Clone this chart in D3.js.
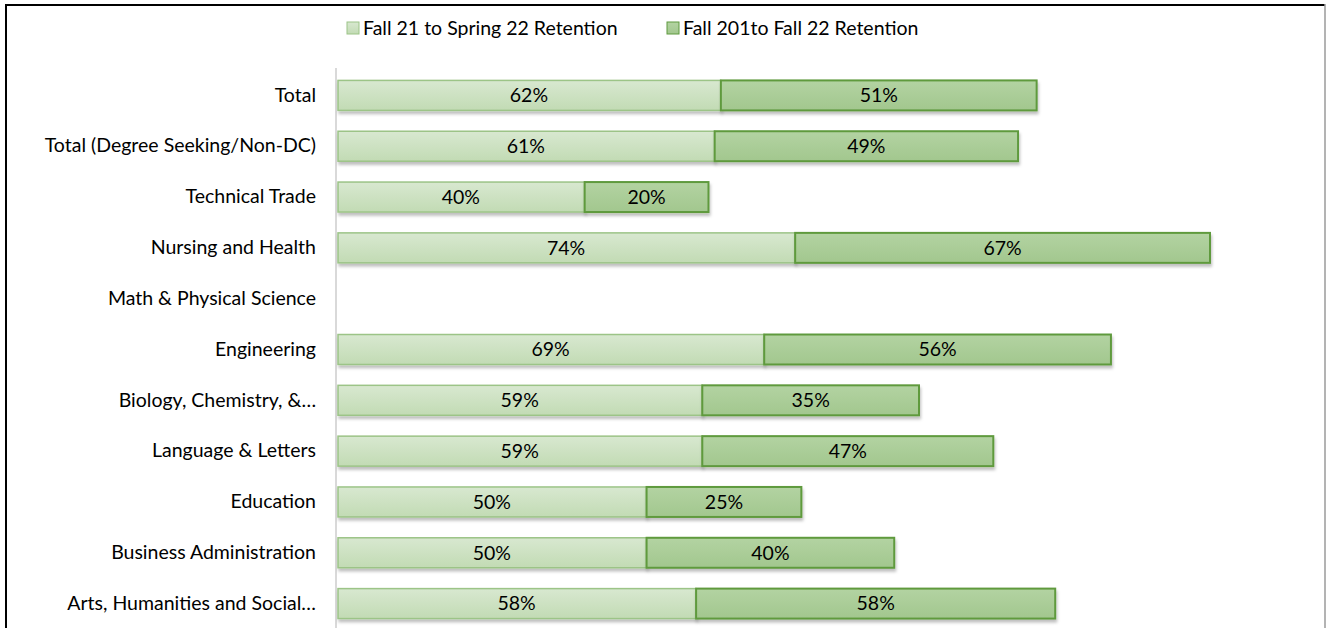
<!DOCTYPE html>
<html><head><meta charset="utf-8">
<script src="https://cdn.jsdelivr.net/npm/d3@7"></script>
<style>body{margin:0;background:#fff;} svg{display:block;font-family:Lato,"Open Sans",sans-serif;}</style>
</head><body>
<svg id="c" width="1327" height="628"></svg>
<script>
const categories = ["Total","Total (Degree Seeking/Non-DC)","Technical Trade","Nursing and Health","Math & Physical Science","Engineering","Biology, Chemistry, &…","Language & Letters","Education","Business Administration","Arts, Humanities and Social…"];
const springRetention = [62,61,40,74,null,69,59,59,50,50,58];
const fallRetention = [51,49,20,67,null,56,35,47,25,40,58];
const seriesNames = ["Fall 21 to Spring 22 Retention","Fall 201to Fall 22 Retention"];

const svg = d3.select("#c");
const W = 1327, H = 628;
const FS = 19.5;
// border
svg.append("line").attr("x1",6).attr("x2",1325).attr("y1",5).attr("y2",5).attr("stroke","#000").attr("stroke-width",2);
svg.append("line").attr("x1",6).attr("x2",6).attr("y1",4).attr("y2",H).attr("stroke","#000").attr("stroke-width",2);
svg.append("line").attr("x1",1325).attr("x2",1325).attr("y1",4).attr("y2",H).attr("stroke","#9a9a9a").attr("stroke-width",1.5);

const defs = svg.append("defs");
const g1 = defs.append("linearGradient").attr("id","gl").attr("x1",0).attr("x2",0).attr("y1",0).attr("y2",1);
g1.append("stop").attr("offset","0%").attr("stop-color","#d8e8d0");
g1.append("stop").attr("offset","100%").attr("stop-color","#c2dbb4");
const g2 = defs.append("linearGradient").attr("id","gd").attr("x1",0).attr("x2",0).attr("y1",0).attr("y2",1);
g2.append("stop").attr("offset","0%").attr("stop-color","#b3d3a2");
g2.append("stop").attr("offset","100%").attr("stop-color","#a2c78e");
const sh = defs.append("filter").attr("id","sh").attr("x","-5%").attr("y","-20%").attr("width","110%").attr("height","160%");
sh.append("feDropShadow").attr("dx",1).attr("dy",3).attr("stdDeviation",1.5).attr("flood-color","#000").attr("flood-opacity",0.25);

const x = d3.scaleLinear().domain([0,141]).range([337,1210]);
const y = d3.scaleBand().domain(categories).range([70,629]).paddingInner(0.41).paddingOuter(0.205);

// axis
const yAxis = d3.axisLeft(y).tickSize(0).tickPadding(20);
const ax = svg.append("g").attr("transform","translate(336,0)").call(yAxis);
ax.select(".domain").attr("stroke","#d9d9d9").attr("stroke-width",2).attr("d","M0,68V628");
ax.selectAll("text").attr("font-size",FS).attr("fill","#000").attr("font-family","Lato,'Open Sans',sans-serif");

const rows = categories.map((c,i)=>({c, a:springRetention[i], b:fallRetention[i]})).filter(d=>d.a!=null);
const bars = svg.append("g");
rows.forEach(d=>{
  const yy = y(d.c), h = y.bandwidth();
  bars.append("rect").attr("x",x(0)+1).attr("y",yy).attr("width",x(d.a)-x(0)-1).attr("height",h)
    .attr("fill","url(#gl)").attr("stroke","#9cc487").attr("stroke-width",1.5).attr("filter","url(#sh)");
  bars.append("rect").attr("x",x(d.a)).attr("y",yy).attr("width",x(d.a+d.b)-x(d.a)).attr("height",h)
    .attr("fill","url(#gd)").attr("stroke","#5f9a3e").attr("stroke-width",2).attr("filter","url(#sh)");
  bars.append("text").attr("x",(x(0)+x(d.a))/2).attr("y",yy+h/2).attr("dy","0.35em").attr("text-anchor","middle")
    .attr("font-size",FS).text(d.a+"%");
  bars.append("text").attr("x",(x(d.a)+x(d.a+d.b))/2).attr("y",yy+h/2).attr("dy","0.35em").attr("text-anchor","middle")
    .attr("font-size",FS).text(d.b+"%");
});

// legend
const leg = [{n:seriesNames[0],x:347,f:"url(#gl)",s:"#9cc487"},{n:seriesNames[1],x:667,f:"url(#gd)",s:"#5f9a3e"}];
leg.forEach(l=>{
  svg.append("rect").attr("x",l.x).attr("y",22).attr("width",12).attr("height",12).attr("fill",l.f).attr("stroke",l.s).attr("stroke-width",1);
  svg.append("text").attr("x",l.x+16).attr("y",28).attr("dy","0.35em").attr("font-size",FS).text(l.n);
});
</script>
</body></html>
